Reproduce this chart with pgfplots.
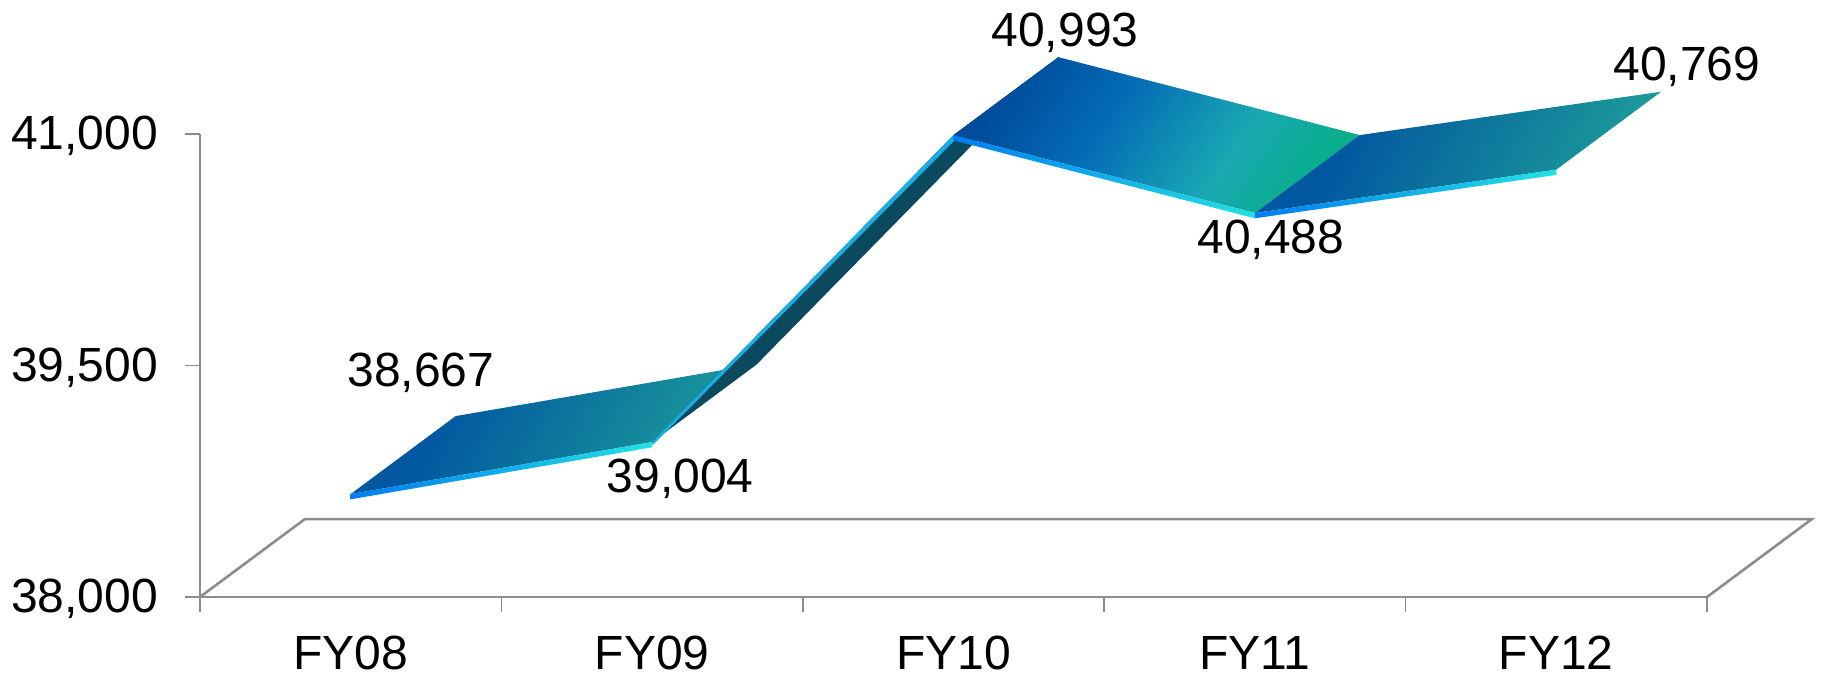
\documentclass[border=0pt]{standalone}
\usepackage{fontspec}
\setmainfont{Liberation Sans}
\usepackage{pgfplots}
\pgfplotsset{compat=1.18}

\definecolor{axisgray}{HTML}{8C8C8C}
\definecolor{riserdark}{HTML}{0B4A5E}
\definecolor{riseredge}{HTML}{18AEE6}
\definecolor{topdark}{HTML}{0258A0}
\definecolor{topteal}{HTML}{1C9C9A}
\definecolor{midA}{HTML}{004C9C}
\definecolor{midB}{HTML}{046CB6}
\definecolor{midC}{HTML}{1AA8B2}
\definecolor{midD}{HTML}{08AE8C}
\definecolor{edgeblue}{HTML}{007CF0}
\definecolor{edgecyan}{HTML}{22E2E2}

% ribbon tops, dark blue to teal (or green on the FY10-FY11 span)
\pgfdeclarehorizontalshading{ribbonA}{100bp}{
  color(0bp)=(topdark); color(33bp)=(topdark);
  color(75bp)=(topteal); color(100bp)=(topteal)}
\pgfdeclarehorizontalshading{ribbonB}{100bp}{
  color(0bp)=(midA); color(25bp)=(midA);
  color(42bp)=(midB); color(62bp)=(midC);
  color(75bp)=(midD); color(100bp)=(midD)}
\pgfdeclarehorizontalshading{edgeA}{100bp}{
  color(0bp)=(edgeblue); color(25bp)=(edgeblue);
  color(75bp)=(edgecyan); color(100bp)=(edgecyan)}

\begin{document}
\begin{tikzpicture}
\path[use as bounding box] (-100pt,-38.5pt) rectangle (810.5pt,298.5pt);
\begin{axis}[
    scale only axis,
    width=753.5pt,
    height=231.5pt,
    clip=false,
    xmin=-0.5, xmax=4.5,
    ymin=38000, ymax=41000,
    axis x line*=bottom,
    axis y line*=left,
    axis line style={axisgray, line width=1.3pt},
    tick style={axisgray, line width=0.8pt},
    tick align=outside,
    major tick length=7.5pt,
    xtick={-0.5,0.5,1.5,2.5,3.5,4.5},
    xticklabels={},
    extra x ticks={0,1,2,3,4},
    extra x tick labels={FY08,FY09,FY10,FY11,FY12},
    extra x tick style={major tick length=0pt, tick style={draw=none},
      xticklabel style={yshift=-16pt}},
    scaled y ticks=false,
    ytick={38000,39500,41000},
    yticklabels={38{,}000,39{,}500,41{,}000},
    /pgf/number format/assume math mode=true,
    ticklabel style={font=\fontsize{24}{28}\selectfont, black},
    yticklabel style={xshift=-10pt, yshift=-1pt},
]

% floor
\addplot[axisgray, line width=1.3pt] coordinates {
  (-0.5,38000) (-0.152,38505) (4.848,38505) (4.5,38000)};

% FY08-FY09
\addplot[draw=none, shade, shading=ribbonA, shading angle=-30] coordinates {
  (0,38667) (1,39004) (1.348,39509) (0.348,39172)} --cycle;
\addplot[draw=none, shade, shading=edgeA] coordinates {
  (0,38667) (1,39004) (1,38970) (0,38633)} --cycle;

% FY09-FY10, seen from below
\addplot[draw=none, fill=riserdark] coordinates {
  (1,39004) (2,40993) (2.348,41498) (1.348,39509)} --cycle;
\addplot[draw=none, fill=riseredge] coordinates {
  (1,39004) (2,40993) (2.008,40968) (1.003,38985)} --cycle;

% FY10-FY11
\addplot[draw=none, shade, shading=ribbonB, shading angle=-35] coordinates {
  (2,40993) (3,40488) (3.348,40993) (2.348,41498)} --cycle;
\addplot[draw=none, shade, shading=edgeA] coordinates {
  (2,40993) (3,40488) (3,40454) (2,40959)} --cycle;

% FY11-FY12
\addplot[draw=none, shade, shading=ribbonA, shading angle=-30] coordinates {
  (3,40488) (4,40769) (4.348,41274) (3.348,40993)} --cycle;
\addplot[draw=none, shade, shading=edgeA] coordinates {
  (3,40488) (4,40769) (4,40735) (3,40454)} --cycle;

\begin{scope}[every node/.style={font=\fontsize{24}{28}\selectfont, black, anchor=base}]
\node at (axis cs:0.233,39365) {38,667};
\node at (axis cs:1.093,38678) {39,004};
\node at (axis cs:2.370,41570) {40,993};
\node at (axis cs:3.053,40228) {40,488};
\node at (axis cs:4.433,41348) {40,769};
\end{scope}
\end{axis}
\end{tikzpicture}
\end{document}
